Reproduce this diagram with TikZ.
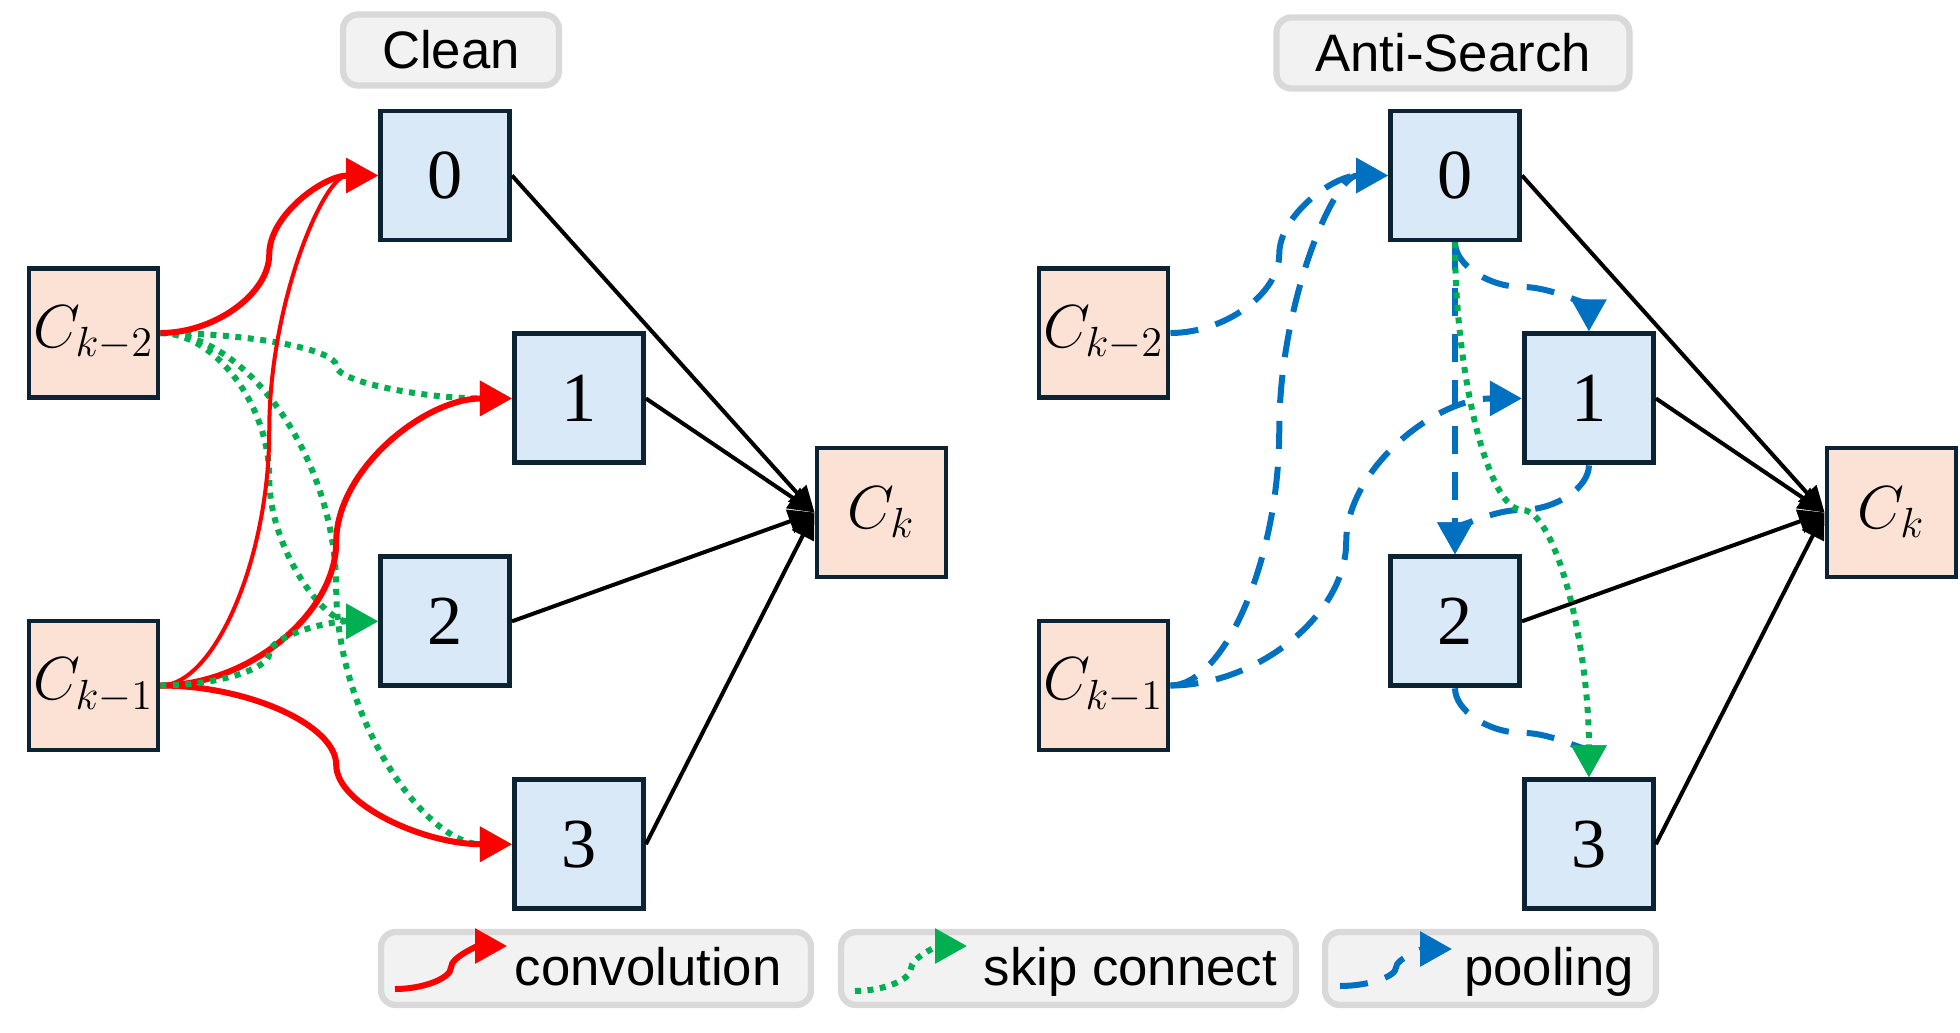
\documentclass[tikz,border=0pt]{standalone}
\usepackage[no-math]{fontspec}
\newfontfamily\labfont{Liberation Sans}
\newfontfamily\numfont{Liberation Serif}
\usetikzlibrary{arrows.meta,positioning,calc}
\definecolor{opfill}{RGB}{218,233,248}
\definecolor{cellfill}{RGB}{251,226,213}
\definecolor{boxline}{RGB}{12,35,52}
\definecolor{tagfill}{RGB}{242,242,242}
\definecolor{tagline}{RGB}{217,217,217}
\definecolor{cconv}{RGB}{255,0,0}
\definecolor{cskip}{RGB}{0,176,80}
\definecolor{cpool}{RGB}{0,112,192}
\tikzset{
  opbox/.style={draw=boxline, fill=opfill, line width=1.4pt, minimum size=1.29cm,
                inner sep=0pt, font=\numfont\fontsize{20}{22}\selectfont},
  cellbox/.style={opbox, fill=cellfill, font=\fontsize{17.5}{20}\selectfont},
  tagbox/.style={draw=tagline, fill=tagfill, line width=1.8pt, rounded corners=1.5mm,
                 minimum height=0.71cm, inner sep=0pt, font=\labfont\fontsize{15}{18}\selectfont},
  legbox/.style={tagbox, minimum height=0.73cm},
  legtxt/.style={inner sep=0pt, font=\labfont\fontsize{15}{18}\selectfont},
  outarr/.style={-{Triangle[length=2.6mm,width=2.4mm]}, black, line width=0.4mm},
  convarr/.style={-{Triangle[length=3.2mm,width=3.4mm]}, cconv, line width=0.6mm},
  skiparr/.style={-{Triangle[length=3.2mm,width=3.4mm]}, cskip, line width=0.6mm,
                  dash pattern=on 0.6mm off 0.65mm},
  poolarr/.style={-{Triangle[length=3.2mm,width=3.4mm]}, cpool, line width=0.6mm,
                  dash pattern=on 2.8mm off 1.8mm},
}
% curved connector, leaves and enters sideways
\newcommand{\hconn}[3]{%
  \draw[#1] let \p1=(#2), \p2=(#3) in (\p1)
    .. controls ({0.75*\x1+0.25*\x2},\y1) and ({0.5*\x1+0.5*\x2},{0.75*\y1+0.25*\y2})
    .. ({0.5*\x1+0.5*\x2},{0.5*\y1+0.5*\y2})
    .. controls ({0.5*\x1+0.5*\x2},{0.25*\y1+0.75*\y2}) and ({0.25*\x1+0.75*\x2},\y2) .. (\p2);}
% curved connector, leaves and enters downwards
\newcommand{\vconn}[3]{%
  \draw[#1] let \p1=(#2), \p2=(#3) in (\p1)
    .. controls (\x1,{0.75*\y1+0.25*\y2}) and ({0.75*\x1+0.25*\x2},{0.5*\y1+0.5*\y2})
    .. ({0.5*\x1+0.5*\x2},{0.5*\y1+0.5*\y2})
    .. controls ({0.25*\x1+0.75*\x2},{0.5*\y1+0.5*\y2}) and (\x2,{0.25*\y1+0.75*\y2}) .. (\p2);}
\newcommand{\cellnodes}[1]{%
  \node[cellbox] (#1-km2) at (0.935,6.99) {$C_{k-2}$};
  \node[cellbox] (#1-km1) at (0.935,3.465) {$C_{k-1}$};
  \node[opbox] (#1-0) at (4.45,8.565) {0};
  \node[opbox, below right=0.89cm and 0cm of #1-0] (#1-1) {1};
  \node[opbox, below left=0.89cm and 0cm of #1-1] (#1-2) {2};
  \node[opbox, below right=0.89cm and 0cm of #1-2] (#1-3) {3};
  \node[cellbox] (#1-k) at (8.815,5.195) {$C_k$};
  \foreach \i in {0,...,3}
    \draw[outarr] (#1-\i.east) -- (#1-k.west);}

\begin{document}
\begin{tikzpicture}
  \useasboundingbox (0,0) rectangle (19.6,10.32);
  \begin{scope}
    \cellnodes{cl}
  \end{scope}
  \begin{scope}[xshift=10.1cm]
    \cellnodes{as}
  \end{scope}
  \node[tagbox, minimum width=2.16cm] (tag-cl) at (4.51,9.82) {Clean};
  \node[tagbox, minimum width=3.53cm] (tag-as) at (14.53,9.79) {Anti-Search};
  % clean cell
  \hconn{skiparr}{cl-km2.east}{cl-1.west}
  \hconn{skiparr}{cl-km2.east}{cl-2.west}
  \hconn{skiparr}{cl-km2.east}{cl-3.west}
  \hconn{convarr}{cl-km2.east}{cl-0.west}
  \hconn{convarr, line width=0.4mm}{cl-km1.east}{cl-0.west}
  \hconn{convarr}{cl-km1.east}{cl-1.west}
  \hconn{convarr}{cl-km1.east}{cl-3.west}
  \hconn{skiparr}{cl-km1.east}{cl-2.west}
  % anti-search cell
  \hconn{poolarr}{as-km2.east}{as-0.west}
  \hconn{poolarr}{as-km1.east}{as-0.west}
  \hconn{poolarr}{as-km1.east}{as-1.west}
  \vconn{poolarr}{as-0.south}{as-1.north}
  \draw[poolarr] (as-0.south) -- (as-2.north);
  \vconn{poolarr}{as-1.south}{as-2.north}
  \vconn{poolarr}{as-2.south}{as-3.north}
  \vconn{skiparr}{as-0.south}{as-3.north}
  % legend
  \node[legbox, minimum width=4.30cm] (leg-conv) at (5.96,0.635) {};
  \node[legtxt, anchor=base west] (txt-conv) at (5.14,0.465) {convolution};
  \coordinate (ic-conv-a) at (3.95,0.43);
  \coordinate (ic-conv-b) at (5.07,0.86);
  \hconn{convarr}{ic-conv-a}{ic-conv-b}
  \node[legbox, minimum width=4.55cm] (leg-skip) at (10.685,0.635) {};
  \node[legtxt, anchor=base west] (txt-skip) at (9.83,0.465) {skip connect};
  \coordinate (ic-skip-a) at (8.55,0.41);
  \coordinate (ic-skip-b) at (9.67,0.86);
  \hconn{skiparr}{ic-skip-a}{ic-skip-b}
  \node[legbox, minimum width=3.31cm] (leg-pool) at (14.905,0.635) {};
  \node[legtxt, anchor=base west] (txt-pool) at (14.635,0.465) {pooling};
  \coordinate (ic-pool-a) at (13.40,0.46);
  \coordinate (ic-pool-b) at (14.52,0.83);
  \hconn{poolarr}{ic-pool-a}{ic-pool-b}
\end{tikzpicture}
\end{document}
